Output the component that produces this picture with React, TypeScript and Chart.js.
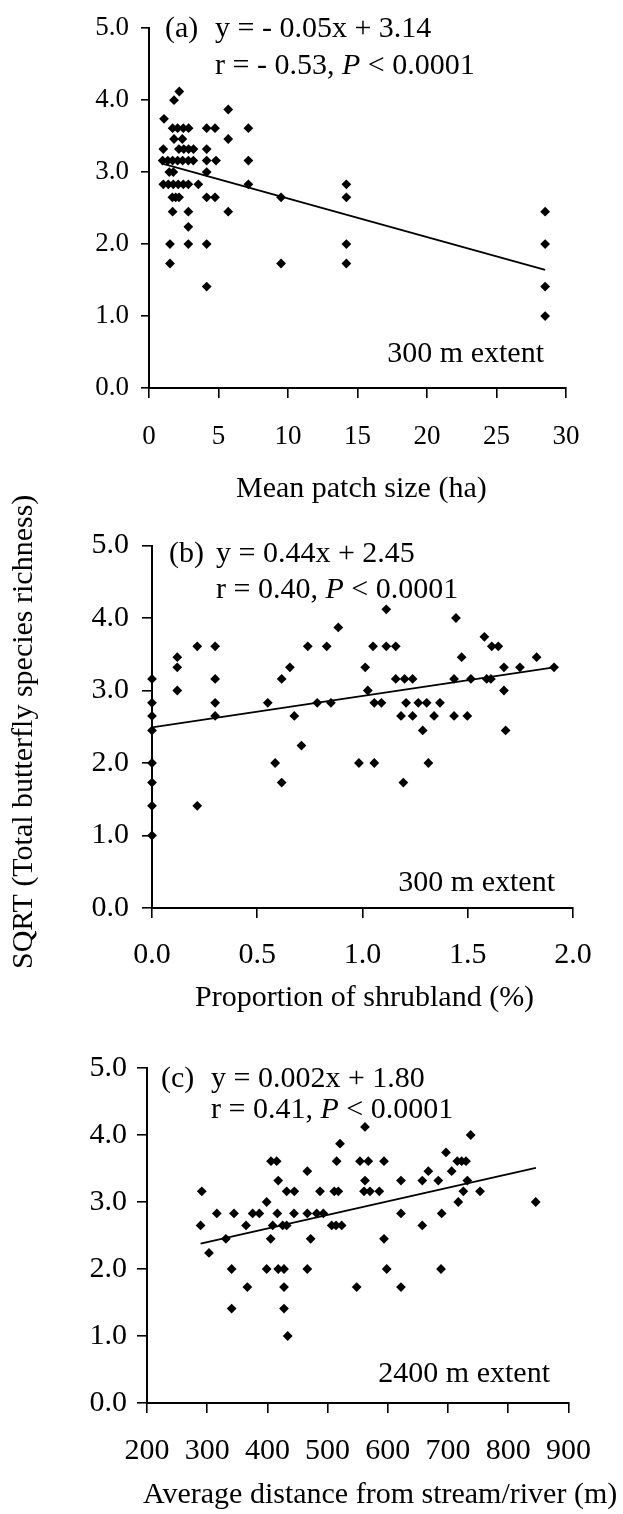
import React, { useEffect, useRef } from "react";
import { Chart, registerables } from "chart.js";

Chart.register(...registerables);

const SERIF = '"Liberation Serif", "Times New Roman", Times, serif';

// ---------- Panel (a): mean patch size (ha), 300 m extent ----------
const patchSize = [
  2.18, 1.8, 1.08, 5.7,
  1.7, 2.06, 2.47, 2.85, 4.15, 4.75, 7.15,
  1.8, 2.4, 5.7,
  1.03, 2.15, 2.5, 2.85, 3.2, 4.15,
  0.98, 1.35, 1.7, 2.06, 2.42, 2.83, 3.19, 4.15, 4.82, 7.15,
  1.46, 1.75, 4.15,
  1.03, 1.39, 1.75, 2.1, 2.47, 2.83, 3.55, 7.15, 14.2,
  1.68, 1.92, 2.16, 4.15, 4.75, 9.5, 14.2,
  1.7, 2.83, 5.7, 28.5,
  2.83,
  1.51, 2.83, 4.15, 14.2, 28.5,
  1.51, 9.5, 14.2,
  4.15, 28.5,
  28.5,
];
const patchRichness = [
  4.12, 4.0, 3.74, 3.87,
  3.61, 3.61, 3.61, 3.61, 3.61, 3.61, 3.61,
  3.46, 3.46, 3.46,
  3.32, 3.32, 3.32, 3.32, 3.32, 3.32,
  3.16, 3.16, 3.16, 3.16, 3.16, 3.16, 3.16, 3.16, 3.16, 3.16,
  3.0, 3.0, 3.0,
  2.83, 2.83, 2.83, 2.83, 2.83, 2.83, 2.83, 2.83, 2.83,
  2.65, 2.65, 2.65, 2.65, 2.65, 2.65, 2.65,
  2.45, 2.45, 2.45, 2.45,
  2.24,
  2.0, 2.0, 2.0, 2.0, 2.0,
  1.73, 1.73, 1.73,
  1.41, 1.41,
  1.0,
];
const patchFitX = [0.9, 28.5];
const patchFitY = [3.12, 1.64];

// ---------- Panel (b): proportion of shrubland (%), 300 m extent ----------
const shrubland = [
  0, 0, 0, 0, 0, 0, 0, 0, 0.12, 0.12, 0.12, 0.215, 0.215, 0.3, 0.3, 0.3, 0.3,
  0.55, 0.585, 0.616, 0.616, 0.655, 0.676, 0.71, 0.74, 0.785, 0.83, 0.85, 0.885,
  0.983, 1.013, 1.025, 1.05, 1.056, 1.056, 1.09, 1.113, 1.113, 1.158, 1.158,
  1.183, 1.194, 1.2, 1.207, 1.238, 1.238, 1.265, 1.286, 1.305, 1.313, 1.34,
  1.368, 1.435, 1.435, 1.444, 1.471, 1.498, 1.515, 1.579, 1.59, 1.61, 1.614,
  1.645, 1.672, 1.672, 1.68, 1.748, 1.827, 1.91,
];
const shrubRichness = [
  3.16, 2.83, 2.65, 2.45, 2.0, 1.73, 1.41, 1.0, 3.46, 3.32, 3.0, 3.61, 1.41,
  3.61, 3.16, 2.83, 2.65,
  2.83, 2.0, 3.16, 1.73, 3.32, 2.65, 2.24, 3.61, 2.83, 3.61, 2.83, 3.87,
  2.0, 3.32, 3.0, 3.61, 2.83, 2.0, 2.83, 4.12, 3.61, 3.61, 3.16,
  2.65, 1.73, 3.16, 2.83, 3.16, 2.65, 2.83, 2.45, 2.83, 2.0, 2.65,
  2.83, 3.16, 2.65, 4.0, 3.46, 2.65, 3.16, 3.74, 3.16, 3.16, 3.61,
  3.61, 3.32, 3.0, 2.45, 3.32, 3.46, 3.32,
];
const shrubFitX = [0, 1.91];
const shrubFitY = [2.49, 3.32];

// ---------- Panel (c): average distance from stream/river (m), 2400 m extent ----------
const streamDistance = [
  291, 289, 303, 316, 331, 344.5, 340.6, 366.7, 340.6, 364.5,
  375.5, 386.6, 398.8, 398.8, 405.5, 408.8, 406, 415.4, 418, 416.5,
  418, 427.6, 425.4, 432, 427.6, 427.6, 433.7, 432, 444.7, 444.2,
  466.3, 466.3, 466.3, 471.9, 481.9, 492.9, 487.4, 506.8, 514, 523.4,
  511.1, 517.8, 515, 520.6, 548.3, 562.1, 553.8, 567.6, 562.1, 560.5,
  570.4, 585.9, 593.7, 593.7, 598.2, 621.9, 621.9, 621.9, 657.3, 657.3,
  667.3, 683.9, 689.5, 688.4, 696.7, 706.1, 715.4, 722.7, 729.9, 737.7,
  732.1, 725.5, 717.1, 753.2, 845.7,
];
const streamRichness = [
  3.16, 2.65, 2.24, 2.83, 2.45, 2.83, 2.0, 1.73, 1.41, 2.65,
  2.83, 2.83, 3.0, 2.0, 2.45, 2.65, 3.61, 3.61, 3.32, 2.83,
  2.0, 2.0, 2.65, 2.65, 1.73, 1.41, 1.0, 3.16, 3.16, 2.83,
  3.46, 2.83, 2.0, 2.45, 2.83, 2.83, 3.16, 2.65, 2.65, 2.65,
  3.16, 3.16, 3.61, 3.87, 1.73, 4.12, 3.61, 3.61, 3.32, 3.16,
  3.16, 3.16, 3.61, 2.45, 2.0, 3.32, 2.83, 1.73, 3.32, 2.65,
  3.46, 3.32, 2.83, 2.0, 3.74, 3.46, 3.61, 3.61, 3.61, 4.0,
  3.32, 3.16, 3.0, 3.16, 3.0,
];
const streamFitX = [289, 846];
const streamFitY = [2.38, 3.51];

// ---------- drawing helpers ----------
type Ctx = CanvasRenderingContext2D;

function txt(ctx: Ctx, s: string, x: number, y: number, size: number, align: CanvasTextAlign = "left") {
  ctx.font = `${size}px ${SERIF}`;
  ctx.textAlign = align;
  ctx.textBaseline = "alphabetic";
  ctx.fillStyle = "#000";
  ctx.fillText(s, x, y);
}

function runs(ctx: Ctx, x: number, y: number, parts: [string, boolean][], size: number) {
  let cx = x;
  ctx.textAlign = "left";
  ctx.textBaseline = "alphabetic";
  ctx.fillStyle = "#000";
  for (const [t, it] of parts) {
    ctx.font = `${it ? "italic " : ""}${size}px ${SERIF}`;
    ctx.fillText(t, cx, y);
    cx += ctx.measureText(t).width;
  }
}

type Spec = {
  top: number; // canvas top on the page
  height: number;
  area: { left: number; right: number; top: number; bottom: number }; // page coords
  xs: number[];
  ys: number[];
  fitX: number[];
  fitY: number[];
  xMin: number;
  xMax: number;
  xStep: number;
  xDigits: number;
  tickSize: number;
  yTickLen: number;
  xTickLen: number;
  yTickPad: number;
  xTickPad: number;
  draw: (ctx: Ctx) => void; // page coords
};

const W = 623;
const XH = 70;

const specs: Spec[] = [
  {
    top: 0,
    height: 515,
    area: { left: 149, right: 566, top: 21.5, bottom: 388 },
    xs: patchSize,
    ys: patchRichness,
    fitX: patchFitX,
    fitY: patchFitY,
    xMin: 0,
    xMax: 30,
    xStep: 5,
    xDigits: 0,
    tickSize: 27,
    yTickLen: 8,
    xTickLen: 10,
    yTickPad: 12,
    xTickPad: 23,
    draw: (ctx) => {
      txt(ctx, "(a)", 165, 37, 30);
      txt(ctx, "y = - 0.05x + 3.14", 215, 37, 30);
      runs(ctx, 215, 73.5, [["r = - 0.53, ", false], ["P", true], [" < 0.0001", false]], 30);
      txt(ctx, "300 m extent", 544, 362, 30, "right");
      txt(ctx, "Mean patch size (ha)", 236, 497, 30);
    },
  },
  {
    top: 450,
    height: 575,
    area: { left: 152, right: 573, top: 545.5, bottom: 908 },
    xs: shrubland,
    ys: shrubRichness,
    fitX: shrubFitX,
    fitY: shrubFitY,
    xMin: 0,
    xMax: 2,
    xStep: 0.5,
    xDigits: 1,
    tickSize: 30,
    yTickLen: 10,
    xTickLen: 10,
    yTickPad: 13,
    xTickPad: 19,
    draw: (ctx) => {
      txt(ctx, "(b)", 169, 561.7, 30);
      txt(ctx, "y = 0.44x + 2.45", 216, 561.7, 30);
      runs(ctx, 216, 598.3, [["r = 0.40, ", false], ["P", true], [" < 0.0001", false]], 30);
      txt(ctx, "300 m extent", 555, 890.7, 30, "right");
      txt(ctx, "Proportion of shrubland (%)", 195, 1006, 30);
      ctx.save();
      ctx.translate(32, 969);
      ctx.rotate(-Math.PI / 2);
      txt(ctx, "SQRT (Total butterfly species richness)", 0, 0, 30);
      ctx.restore();
    },
  },
  {
    top: 1025,
    height: 489,
    area: { left: 147, right: 568.4, top: 1068, bottom: 1403 },
    xs: streamDistance,
    ys: streamRichness,
    fitX: streamFitX,
    fitY: streamFitY,
    xMin: 200,
    xMax: 900,
    xStep: 100,
    xDigits: 0,
    tickSize: 30,
    yTickLen: 10,
    xTickLen: 10,
    yTickPad: 10,
    xTickPad: 20,
    draw: (ctx) => {
      txt(ctx, "(c)", 161, 1086.7, 30);
      txt(ctx, "y = 0.002x + 1.80", 211, 1086.7, 30);
      runs(ctx, 211, 1118.3, [["r = 0.41, ", false], ["P", true], [" < 0.0001", false]], 30);
      txt(ctx, "2400 m extent", 550, 1381.7, 30, "right");
      txt(ctx, "Average distance from stream/river (m)", 143, 1503, 30);
    },
  },
];

function Panel({ spec }: { spec: Spec }) {
  const ref = useRef<HTMLCanvasElement>(null);
  useEffect(() => {
    const s = spec;
    const tickFont = { family: SERIF, size: s.tickSize };
    const textPlugin = {
      id: "panelText",
      afterDraw(chart: any) {
        const ctx = chart.ctx as Ctx;
        ctx.save();
        ctx.translate(0, -s.top);
        s.draw(ctx);
        ctx.restore();
      },
    };
    const chart = new Chart(ref.current as HTMLCanvasElement, {
      type: "scatter",
      data: {
        datasets: [
          {
            type: "line",
            data: s.fitX.map((x, i) => ({ x, y: s.fitY[i] })),
            borderColor: "#000",
            borderWidth: 1.8,
            pointRadius: 0,
            fill: false,
            tension: 0,
            clip: false,
          } as any,
          {
            type: "scatter",
            data: s.xs.map((x, i) => ({ x, y: s.ys[i] })),
            pointStyle: "rectRot",
            pointRadius: 4.9,
            backgroundColor: "#000",
            borderColor: "#000",
            borderWidth: 0,
            clip: false,
          } as any,
        ],
      },
      options: {
        responsive: false,
        animation: false,
        events: [],
        layout: {
          padding: {
            left: 0,
            top: s.area.top - s.top,
            right: W - s.area.right,
            bottom: s.top + s.height - s.area.bottom - XH,
          },
        },
        plugins: { legend: { display: false }, tooltip: { enabled: false } },
        scales: {
          x: {
            type: "linear",
            min: s.xMin,
            max: s.xMax,
            ticks: {
              stepSize: s.xStep,
              autoSkip: false,
              maxRotation: 0,
              color: "#000",
              font: tickFont,
              padding: s.xTickPad,
              callback: (v: any) => Number(v).toFixed(s.xDigits),
            },
            grid: {
              drawOnChartArea: false,
              drawTicks: true,
              tickLength: s.xTickLen,
              color: "#000",
              lineWidth: 1.6,
            },
            border: { display: true, color: "#000", width: 2 },
            afterFit: (sc: any) => {
              sc.height = XH;
            },
          } as any,
          y: {
            type: "linear",
            min: 0,
            max: 5,
            ticks: {
              stepSize: 1,
              color: "#000",
              font: tickFont,
              padding: s.yTickPad,
              callback: (v: any) => Number(v).toFixed(1),
            },
            grid: {
              drawOnChartArea: false,
              drawTicks: true,
              tickLength: s.yTickLen,
              color: "#000",
              lineWidth: 1.6,
            },
            border: { display: true, color: "#000", width: 2 },
            afterFit: (sc: any) => {
              sc.width = s.area.left;
            },
          } as any,
        },
      },
      plugins: [textPlugin],
    });
    return () => chart.destroy();
  }, [spec]);
  return (
    <canvas
      ref={ref}
      width={W}
      height={spec.height}
      style={{ position: "absolute", left: 0, top: spec.top, width: `${W}px`, height: `${spec.height}px` }}
    />
  );
}

export default function App() {
  return (
    <div style={{ position: "absolute", left: 0, top: 0, width: W, height: 1514, background: "#fff", overflow: "hidden" }}>
      {specs.map((s, i) => (
        <Panel key={i} spec={s} />
      ))}
    </div>
  );
}
